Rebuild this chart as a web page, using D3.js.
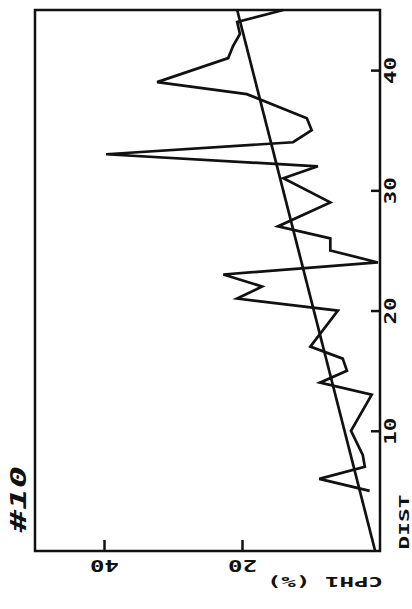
<!DOCTYPE html>
<html>
<head>
<meta charset="utf-8">
<script src="https://cdn.jsdelivr.net/npm/d3@7"></script>
<style>
  html, body { margin: 0; padding: 0; background: #ffffff; }
  svg { display: block; }
  text { font-family: "DejaVu Sans Mono", monospace; font-weight: bold; fill: #111; }
</style>
</head>
<body>
<div id="chart"></div>
<script>
// ---- data ----
const dist = [5, 6, 7, 8, 10, 13, 14, 15, 16, 17, 20, 21, 22, 23, 24, 25, 26, 27, 29, 31, 32, 33, 34, 35, 36, 38, 39, 41, 42, 43, 44, 45];
const cph  = [1.5, 8.8, 2.2, 2.5, 4.2, 1.2, 8.7, 4.8, 5.4, 10.1, 6.1, 20.7, 17.1, 22.7, 0.3, 7.2, 7.2, 14.8, 7.2, 14, 9, 39.7, 12.6, 9.9, 10.6, 19.3, 32.3, 22, 21.3, 20.3, 20.7, 14];
const trendDist = [0, 45];
const trendCph  = [0.7, 20.7];
const distTicks = [10, 20, 30, 40];
const cphTicks  = [20, 40];
const title = "#10";
const xLabel = "DIST";
const yLabel = "CPH1 (%)";

// ---- layout (page is shown rotated: DIST runs upward on the right, CPH1 runs leftward at the bottom) ----
const W = 412, H = 609;
const frame = { left: 35, right: 380, top: 10, bottom: 551 };

const svg = d3.select("#chart").append("svg").attr("width", W).attr("height", H);
svg.append("rect").attr("width", W).attr("height", H).attr("fill", "#ffffff");

const yDist = d3.scaleLinear().domain([0, 45]).range([frame.bottom, frame.top]);
const xCph  = d3.scaleLinear().domain([0, 50]).range([frame.right, frame.left]);

// frame
svg.append("rect")
  .attr("x", frame.left).attr("y", frame.top)
  .attr("width", frame.right - frame.left).attr("height", frame.bottom - frame.top)
  .attr("fill", "none").attr("stroke", "#111").attr("stroke-width", 2.5);

// DIST axis (right side, ticks inward)
const gDist = svg.append("g")
  .attr("transform", `translate(${frame.right},0)`)
  .call(d3.axisRight(yDist).tickValues(distTicks).tickSize(-9).tickFormat(d3.format("d")));
gDist.select(".domain").remove();
gDist.selectAll(".tick line").attr("stroke", "#111").attr("stroke-width", 2.5);
gDist.selectAll(".tick text")
  .attr("x", null).attr("dy", null)
  .attr("text-anchor", "middle")
  .attr("font-size", 15)
  .attr("transform", "translate(16,0) rotate(-90)")
  .attr("textLength", 27).attr("lengthAdjust", "spacingAndGlyphs");

// CPH1 axis (bottom, ticks inward)
const gCph = svg.append("g")
  .attr("transform", `translate(0,${frame.bottom})`)
  .call(d3.axisBottom(xCph).tickValues(cphTicks).tickSize(-11).tickFormat(d3.format("d")));
gCph.select(".domain").remove();
gCph.selectAll(".tick line").attr("stroke", "#111").attr("stroke-width", 2.5);
gCph.selectAll(".tick text")
  .attr("y", null).attr("dy", null)
  .attr("text-anchor", "middle")
  .attr("font-size", 15)
  .attr("transform", "translate(0,9) rotate(180)")
  .attr("textLength", 29).attr("lengthAdjust", "spacingAndGlyphs");

// trend line
const line = d3.line().x(d => xCph(d[1])).y(d => yDist(d[0]));
svg.append("path")
  .datum(trendDist.map((d, i) => [d, trendCph[i]]))
  .attr("d", line)
  .attr("fill", "none").attr("stroke", "#111").attr("stroke-width", 2.7);

// data line
svg.append("path")
  .datum(dist.map((d, i) => [d, cph[i]]))
  .attr("d", line)
  .attr("fill", "none").attr("stroke", "#111").attr("stroke-width", 2.7)
  .attr("stroke-linejoin", "miter");

// axis titles
svg.append("text")
  .attr("text-anchor", "middle")
  .attr("font-size", 14)
  .attr("transform", `translate(409,522) rotate(-90)`)
  .attr("textLength", 55).attr("lengthAdjust", "spacingAndGlyphs")
  .text(xLabel);

svg.append("text")
  .attr("text-anchor", "middle")
  .attr("font-size", 14)
  .attr("transform", `translate(325,577) rotate(180)`)
  .attr("textLength", 116).attr("lengthAdjust", "spacingAndGlyphs")
  .text(yLabel);

svg.append("text")
  .attr("text-anchor", "middle")
  .attr("font-size", 21)
  .attr("font-style", "italic")
  .attr("font-family", "DejaVu Sans")
  .attr("transform", `translate(26,499) rotate(-90)`)
  .attr("textLength", 66).attr("lengthAdjust", "spacingAndGlyphs")
  .text(title);
</script>
</body>
</html>
